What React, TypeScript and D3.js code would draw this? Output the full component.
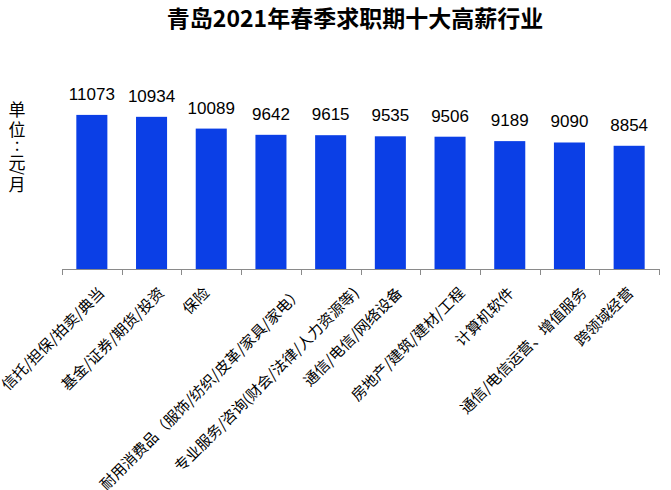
import React, { useEffect, useRef } from "react";
import * as d3 from "d3";

const title = "青岛2021年春季求职期十大高薪行业";
const categories = [
  "信托/担保/拍卖/典当",
  "基金/证券/期货/投资",
  "保险",
  "耐用消费品（服饰/纺织/皮革/家具/家电）",
  "专业服务/咨询(财会/法律/人力资源等)",
  "通信/电信/网络设备",
  "房地产/建筑/建材/工程",
  "计算机软件",
  "通信/电信运营、增值服务",
  "跨领域经营",
];
const values = [11073, 10934, 10089, 9642, 9615, 9535, 9506, 9189, 9090, 8854];
const yLabelChars = ["单", "位", ":", "元", "/", "月"];

const W = 671;
const H = 490;
const BAR = "#0b3fe6";
const CJK = "'Noto Sans CJK SC', 'Noto Sans', sans-serif";

export default function App() {
  const ref = useRef<SVGSVGElement | null>(null);

  useEffect(() => {
    const svg = d3.select(ref.current);
    svg.selectAll("*").remove();

    const x = d3
      .scaleBand<string>()
      .domain(categories)
      .range([62, 659])
      .paddingInner(0.48)
      .paddingOuter(0.24);
    const y = d3.scaleLinear().domain([0, 12000]).range([269, 102]);

    // title
    svg
      .append("text")
      .attr("x", 355)
      .attr("y", 27)
      .attr("text-anchor", "middle")
      .attr("font-family", CJK)
      .attr("font-weight", "bold")
      .attr("font-size", 23)
      .attr("fill", "#000")
      .text(title);

    // y label (vertical)
    const yl = svg
      .append("g")
      .attr("font-family", CJK)
      .attr("font-size", 17)
      .attr("fill", "#000")
      .attr("text-anchor", "middle");
    const yPos = [115.5, 136, 151, 168.5, 172, 191];
    yLabelChars.forEach((c, i) => {
      if (c === "/") {
        yl.append("text")
          .attr("transform", `translate(17,${yPos[i]}) rotate(90)`)
          .attr("dy", "0.35em")
          .attr("font-size", 15)
          .text(c);
      } else {
        yl.append("text").attr("x", 17).attr("y", yPos[i]).text(c);
      }
    });

    // bars
    svg
      .append("g")
      .selectAll("rect")
      .data(values)
      .join("rect")
      .attr("x", (_, i) => x(categories[i]) as number)
      .attr("y", (d) => y(d))
      .attr("width", x.bandwidth())
      .attr("height", (d) => y(0) - y(d))
      .attr("fill", BAR);

    // value labels
    svg
      .append("g")
      .selectAll("text")
      .data(values)
      .join("text")
      .attr("x", (_, i) => (x(categories[i]) as number) + x.bandwidth() / 2)
      .attr("y", (d) => y(d) - 15)
      .attr("text-anchor", "middle")
      .attr("font-family", "'Liberation Sans', Arial, sans-serif")
      .attr("font-size", 17)
      .attr("fill", "#000")
      .text((d) => String(d));

    // axis
    const step = x.step();
    const gap = (step - x.bandwidth()) / 2;
    const boundaries = categories.map((c) => (x(c) as number) - gap);
    boundaries.push(boundaries[boundaries.length - 1] + step);
    const ax = svg.append("g").attr("stroke", "#8a8a8a").attr("stroke-width", 1);
    ax.append("line")
      .attr("x1", boundaries[0])
      .attr("x2", boundaries[boundaries.length - 1])
      .attr("y1", y(0) + 0.5)
      .attr("y2", y(0) + 0.5);
    ax.selectAll("line.tick")
      .data(boundaries)
      .join("line")
      .attr("class", "tick")
      .attr("x1", (d) => Math.round(d) + 0.5)
      .attr("x2", (d) => Math.round(d) + 0.5)
      .attr("y1", y(0))
      .attr("y2", y(0) + 6);

    // category labels
    const lg = svg
      .append("g")
      .attr("font-family", CJK)
      .attr("font-size", 15)
      .attr("fill", "#000")
      .attr("text-anchor", "end");
    categories.forEach((c) => {
      const t = lg.append("text").text(c);
      const node = t.node() as SVGTextElement;
      const L = node.getComputedTextLength();
      const cx = (x(c) as number) + x.bandwidth() / 2;
      t.attr("transform", `translate(${cx + 0.135 * L - 5},294) rotate(-45)`);
    });
  }, []);

  return (
    <svg
      ref={ref}
      width={W}
      height={H}
      style={{ position: "absolute", left: 0, top: 0, background: "#fff" }}
    />
  );
}
